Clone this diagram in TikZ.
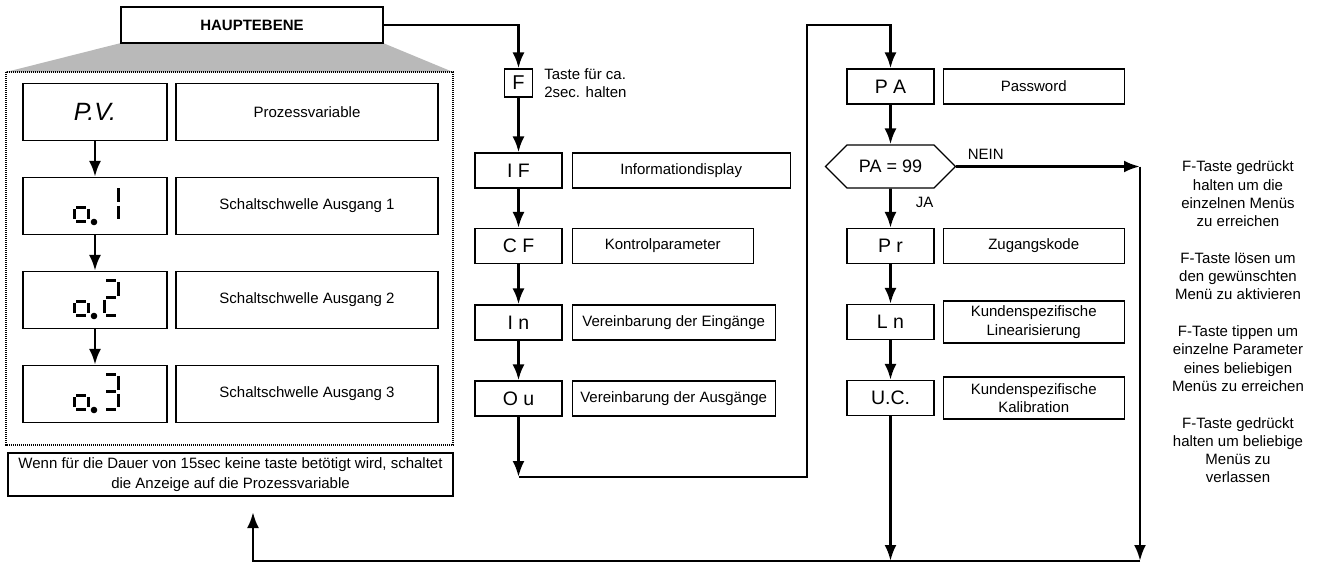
\documentclass[tikz,border=0pt]{standalone}
\usepackage{fontspec}
\setmainfont{Liberation Sans}
\usetikzlibrary{shapes,arrows.meta,positioning,calc}
\tikzset{
block/.style = {draw, fill=white, rectangle, line width=1.2pt, inner sep=0pt, align=center},
codebox/.style = {block, minimum width=87pt, minimum height=35pt, font=\fontsize{19.5}{22}\selectfont},
descbox/.style = {block, minimum height=35pt, font=\fontsize{15}{18.3}\selectfont},
dispbox/.style = {block, minimum width=144pt, minimum height=57pt},
widebox/.style = {descbox, minimum width=262pt, minimum height=57pt},
decision/.style = {draw, fill=white, signal, signal to=west and east, line width=1.2pt, minimum width=130pt, minimum height=43pt, inner sep=0pt, font=\fontsize{18}{20}\selectfont},
txt/.style = {inner sep=0pt, font=\fontsize{15}{18.3}\selectfont},
seg/.style = {line width=3pt},
flow/.style = {line width=2.9pt}
}
% lower "o" and decimal point of the display
\newcommand{\segdot}{%
  \draw[seg] (-19,1) -- (-9,1) (-19,15) -- (-9,15) (-21,3) -- (-21,13) (-7,3) -- (-7,13);
  \fill (-1,16) circle (3.3pt);}

\begin{document}
\begin{tikzpicture}[x=1pt, y=-1pt, >={Latex[length=16pt,width=12pt]}]
    \useasboundingbox (0,0) rectangle (1318,563);

    % main level
    \fill[gray!55] (121,43) -- (383,43) -- (453,72) -- (6,72) -- cycle;
    \node [block, minimum width=262pt, minimum height=36pt, font=\fontsize{15}{18}\selectfont\bfseries] (haupt) at (252,25) {HAUPTEBENE};
    \draw [line width=1.8pt, dash pattern=on 1.2pt off 0.8pt] (6,72) rectangle (453,445);

    \node [dispbox, font=\fontsize{25}{30}\selectfont\itshape] (pv) at (95,112) {P.V.};
    \node [widebox, right of=pv, node distance=212pt] (pvtxt) {Prozessvariable};
    \node [dispbox, below of=pv, node distance=94pt] (o1) {};
    \node [widebox, right of=o1, node distance=212pt] (o1txt) {Schaltschwelle Ausgang 1};
    \node [dispbox, below of=o1, node distance=94pt] (o2) {};
    \node [widebox, right of=o2, node distance=212pt] (o2txt) {Schaltschwelle Ausgang 2};
    \node [dispbox, below of=o2, node distance=94pt] (o3) {};
    \node [widebox, right of=o3, node distance=212pt] (o3txt) {Schaltschwelle Ausgang 3};
    \draw [flow, ->] (pv) -- (o1);
    \draw [flow, ->] (o1) -- (o2);
    \draw [flow, ->] (o2) -- (o3);

    % seven segment digits
    \begin{scope}[shift={(o1.center)}]
        \segdot
        \draw[seg] (23,-18) -- (23,-4.5) (23,-0.5) -- (23,13);
    \end{scope}
    \begin{scope}[shift={(o2.center)}]
        \segdot
        \draw[seg] (11,-20) -- (21,-20) (23,-18) -- (23,-4.5) (11,-2.5) -- (21,-2.5)
                   (9,-0.5) -- (9,13) (11,15) -- (21,15);
    \end{scope}
    \begin{scope}[shift={(o3.center)}]
        \segdot
        \draw[seg] (11,-20) -- (21,-20) (23,-18) -- (23,-4.5) (11,-2.5) -- (21,-2.5)
                   (23,-0.5) -- (23,13) (11,15) -- (21,15);
    \end{scope}

    \node [descbox, minimum width=445pt, minimum height=43pt, font=\fontsize{15}{20}\selectfont] (note) at (230.5,474.5) {Wenn für die Dauer von 15sec keine taste betötigt wird, schaltet\\die Anzeige auf die Prozessvariable};

    % menu column
    \node [block, minimum size=28pt, font=\fontsize{20}{22}\selectfont] (f) at (518.5,83) {F};
    \node [txt, align=left, right=11pt of f] (ftxt) {Taste für ca.\\2sec. halten};
    \node [codebox, below of=f, node distance=87.5pt] (if) {I F};
    \node [descbox, minimum width=218pt, right=9pt of if] (iftxt) {Informationdisplay};
    \node [codebox, below of=if, node distance=75.5pt] (cf) {C F};
    \node [descbox, minimum width=181pt, right=9pt of cf] (cftxt) {Kontrolparameter};
    \node [codebox, below of=cf, node distance=76.5pt] (inp) {I n};
    \node [descbox, minimum width=203pt, right=9pt of inp] (inptxt) {Vereinbarung der Eingänge};
    \node [codebox, below of=inp, node distance=76pt] (outp) {O u};
    \node [descbox, minimum width=203pt, right=9pt of outp] (outptxt) {Vereinbarung der Ausgänge};

    \draw [flow, ->] (haupt.east) -| (f.north);
    \draw [flow, ->] (f) -- (if);
    \draw [flow, ->] (if) -- (cf);
    \draw [flow, ->] (cf) -- (inp);
    \draw [flow, ->] (inp) -- (outp);
    \coordinate (ret) at (518.5,477);
    \coordinate (top) at (807,25);
    \draw [flow, ->] (outp) -- (ret);

    % password column
    \node [codebox] (pa) at (890.5,86.5) {P A};
    \node [descbox, minimum width=181pt, right=8pt of pa] (patxt) {Password};
    \node [decision, below of=pa, node distance=80pt] (check) {PA = 99};
    \node [codebox, below of=check, node distance=79.5pt] (pr) {P r};
    \node [descbox, minimum width=181pt, right=8pt of pr] (prtxt) {Zugangskode};
    \node [codebox, below of=pr, node distance=76pt] (ln) {L n};
    \node [descbox, minimum width=181pt, minimum height=42pt, right=8pt of ln] (lntxt) {Kundenspezifische\\Linearisierung};
    \node [codebox, below of=ln, node distance=76pt] (uc) {U.C.};
    \node [descbox, minimum width=181pt, minimum height=42pt, right=8pt of uc] (uctxt) {Kundenspezifische\\Kalibration};

    \draw [flow, ->] (ret) -| (top) -| (pa.north);
    \draw [flow, ->] (pa) -- (check);
    \draw [flow, ->] (check) -- node[txt, pos=0.35, right=24pt] {JA} (pr);
    \draw [flow, ->] (pr) -- (ln);
    \draw [flow, ->] (ln) -- (uc);
    \coordinate (nein) at (1140,166.5);
    \coordinate (corner) at (1140,561);
    \coordinate (back) at (253,512);
    \draw [flow, ->] (check.east) -- node[txt, pos=0.16, above=6pt] {NEIN} (nein);
    \draw [flow, ->] (nein) -- (corner);
    \draw [flow, ->] (uc) -- (uc |- corner);
    \draw [flow, ->] (corner) -| (back);

    % hints
    \node [txt, align=center] (hint) at (1238,322) {F-Taste gedrückt\\halten um die\\einzelnen Menüs\\zu erreichen\\[18.3pt]
        F-Taste lösen um\\den gewünschten\\Menü zu aktivieren\\[18.3pt]
        F-Taste tippen um\\einzelne Parameter\\eines beliebigen\\Menüs zu erreichen\\[18.3pt]
        F-Taste gedrückt\\halten um beliebige\\Menüs zu\\verlassen};
\end{tikzpicture}
\end{document}
